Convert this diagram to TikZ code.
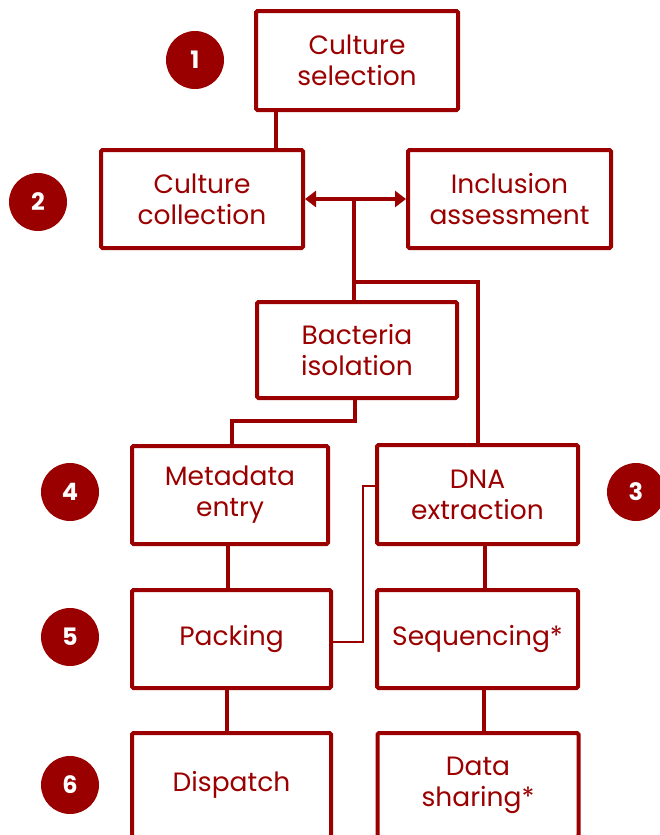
\documentclass[tikz,border=0pt]{standalone}
\usepackage{fontspec}
\setmainfont{Poppins}
\usetikzlibrary{arrows.meta,calc}
\definecolor{dred}{RGB}{155,0,0}
\begin{document}
\begin{tikzpicture}[x=1pt,y=-1pt,
  box/.style={draw=dred,line width=4pt,rounded corners=1.5pt,inner sep=0pt,
    align=center,text=dred,font=\fontsize{26.5}{31}\selectfont},
  num/.style={circle,fill=dred,text=white,inner sep=0pt,minimum size=58pt,
    font=\fontsize{24}{28}\selectfont\bfseries},
  link/.style={draw=dred,line width=4pt},
  thin/.style={draw=dred,line width=2.2pt}]
\useasboundingbox (0,0) rectangle (659,835);
\node[box,minimum width=202pt,minimum height=99pt] (sel) at (357,60.5) {Culture\\selection};
\node[box,minimum width=202pt,minimum height=98pt] (coll) at (202,199) {Culture\\collection};
\node[box,minimum width=203pt,minimum height=98pt] (incl) at (509.5,199) {Inclusion\\assessment};
\node[box,minimum width=200pt,minimum height=96pt] (bact) at (357,350) {Bacteria\\isolation};
\node[box,minimum width=196pt,minimum height=98pt] (meta) at (230,495) {Metadata\\entry};
\node[box,minimum width=201pt,minimum height=99pt] (dna) at (477.5,494.5) {DNA\\extraction};
\node[box,minimum width=199pt,minimum height=98pt] (pack) at (231.5,639) {Packing};
\node[box,minimum width=201pt,minimum height=98pt] (seq) at (477.5,639) {Sequencing*};
\node[box,minimum width=199pt,minimum height=104pt] (disp) at (231.5,785) {Dispatch};
\node[box,minimum width=201pt,minimum height=104pt] (share) at (478,785) {Data\\sharing*};
\node[num] (n1) at (195,60) {1};
\node[num] (n2) at (38,202) {2};
\node[num] (n3) at (636,492) {3};
\node[num] (n4) at (70,492) {4};
\node[num] (n5) at (70,637) {5};
\node[num] (n6) at (70,785) {6};
% connectors
\coordinate (hub) at (354,199);
\coordinate (fork) at (354,282);
\coordinate (bend) at (355,421);
\coordinate (tee) at (363,486);
\coordinate (foot) at (363,642);
\draw[link] ([xshift=22pt]sel.south west) -- ([xshift=22pt]sel.south west |- coll.north);
\draw[link,{Triangle[length=11pt,width=16pt]}-{Triangle[length=11pt,width=16pt]}] (coll.east) -- (incl.west);
\draw[link] (hub) -- (hub |- bact.north);
\draw[link] (fork) -- (fork -| dna.north) -- (dna.north);
\draw[link] (bend |- bact.south) -- (bend) -- (bend -| 232,0) -- (232,0 |- meta.north);
\draw[thin] (dna.west |- tee) -- (tee) -- (foot) -- (pack.east |- foot);
\draw[link] (228,0 |- meta.south) -- (228,0 |- pack.north);
\draw[link] (227,0 |- pack.south) -- (227,0 |- disp.north);
\draw[link] (485,0 |- dna.south) -- (485,0 |- seq.north);
\draw[link] (484,0 |- seq.south) -- (484,0 |- share.north);
\end{tikzpicture}
\end{document}
